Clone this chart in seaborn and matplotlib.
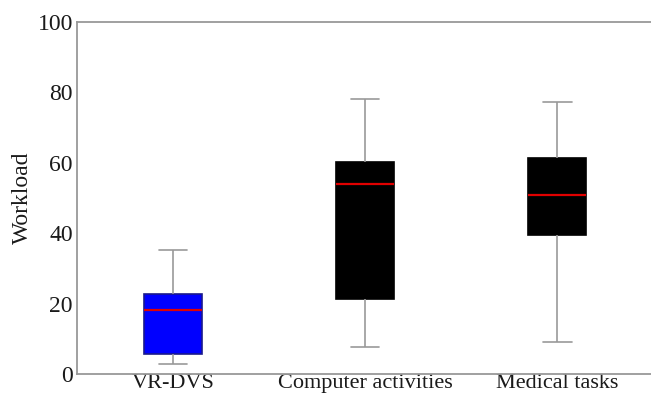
import numpy as np
import pandas as pd
import matplotlib
matplotlib.use("Agg")
import matplotlib.pyplot as plt
import seaborn as sns

# Five-number summaries (min, Q1, median, Q3, max) of workload per task
tasks = ["VR-DVS", "Computer activities", "Medical tasks"]
vr_dvs = [2.9, 5.6, 18.2, 22.8, 35.1]
computer_activities = [7.8, 21.2, 54.1, 60.1, 78.0]
medical_tasks = [9.2, 39.5, 50.8, 61.4, 77.2]
box_colors = ["#0000ff", "#000000", "#000000"]
edge_colors = ["#1a1a8c", "#000000", "#000000"]
y_ticks = [0, 20, 40, 60, 80, 100]

df = pd.DataFrame({
    "task": np.repeat(tasks, 5),
    "workload": vr_dvs + computer_activities + medical_tasks,
})

sns.set_style("white")
plt.rcParams["font.family"] = ["Liberation Serif", "DejaVu Serif"]

fig = plt.figure(figsize=(6.51, 3.96), dpi=100)
ax = fig.add_axes([0.1183, 0.0556, 0.885, 0.889])

gray = "#999999"
sns.boxplot(
    data=df, x="task", y="workload", hue="task", order=tasks, hue_order=tasks,
    palette=box_colors, saturation=1, width=0.3, whis=(0, 100), legend=False,
    linewidth=1.2, fliersize=0, ax=ax,
    medianprops=dict(color="#e00000", linewidth=1.6),
    whiskerprops=dict(color=gray, linewidth=1.2),
    capprops=dict(color=gray, linewidth=1.2),
)

for patch, ec in zip(ax.patches, edge_colors):
    patch.set_edgecolor(ec)

ax.set_xlim(-0.5, 2.5)
ax.set_ylim(0, 100)
ax.set_yticks(y_ticks)
ax.set_xlabel("")
ax.set_ylabel("Workload", fontsize=17, labelpad=3)

for side, sp in ax.spines.items():
    sp.set_visible(True)
    sp.set_color(gray)
    sp.set_linewidth(1.3)

ax.tick_params(axis="both", direction="in", length=3, width=1, color=gray,
               labelsize=17, pad=3, labelcolor="#1a1a1a")
ax.tick_params(axis="x", pad=0, labelsize=16)
ax.yaxis.label.set_color("#1a1a1a")

fig.savefig("out.png", dpi=100)
